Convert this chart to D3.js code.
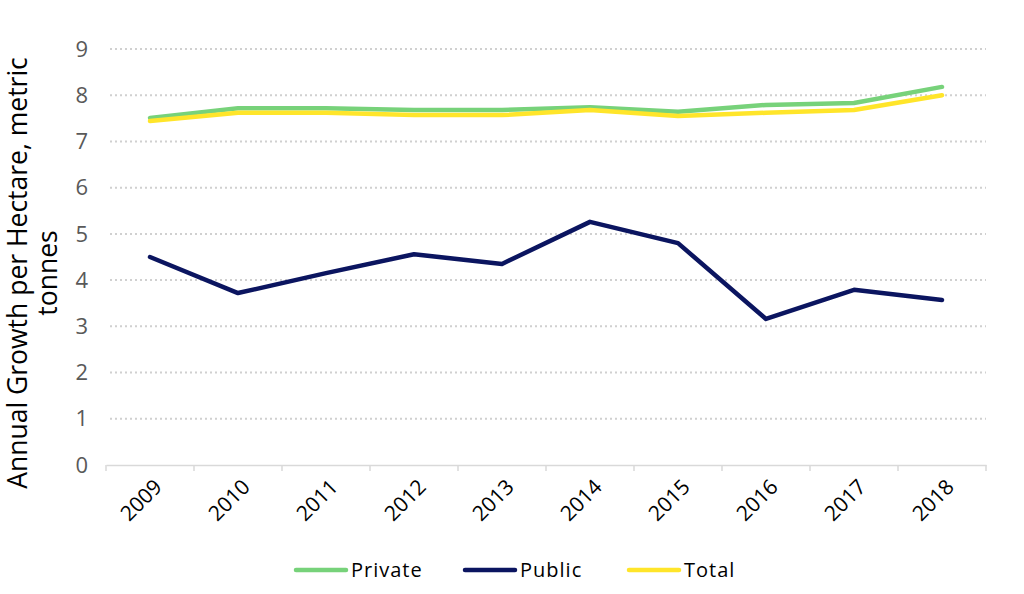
<!DOCTYPE html>
<html>
<head>
<meta charset="utf-8">
<script src="https://cdn.jsdelivr.net/npm/d3@7"></script>
<style>
  body { margin: 0; background: #fff; }
  svg { font-family: "Open Sans", "DejaVu Sans", sans-serif; }
</style>
</head>
<body>
<div id="chart"></div>
<script>
const years = ['2009', '2010', '2011', '2012', '2013', '2014', '2015', '2016', '2017', '2018'];
const privateVals = [7.51, 7.72, 7.72, 7.68, 7.68, 7.74, 7.64, 7.79, 7.83, 8.18];
const publicVals = [4.5, 3.72, 4.15, 4.56, 4.35, 5.26, 4.8, 3.16, 3.79, 3.57];
const totalVals = [7.44, 7.62, 7.62, 7.57, 7.57, 7.68, 7.55, 7.62, 7.68, 8.0];
const yTicks = [0, 1, 2, 3, 4, 5, 6, 7, 8, 9];

const series = [
    { name: 'Private', values: privateVals, color: '#77d27a' },
    { name: 'Public', values: publicVals, color: '#0b1560' },
    { name: 'Total', values: totalVals, color: '#ffe52a' },
];

const W = 1024, H = 594;
const m = { left: 106, right: 38, top: 49, bottom: 129 };

const svg = d3.select('#chart').append('svg')
    .attr('width', W)
    .attr('height', H);

const x = d3.scaleBand()
    .domain(years)
    .range([m.left, W - m.right]);

const y = d3.scaleLinear()
    .domain([0, 9])
    .range([H - m.bottom, m.top]);

// gridlines
svg.append('g')
    .selectAll('line')
    .data(yTicks.filter(d => d > 0))
    .join('line')
    .attr('x1', m.left + 4)
    .attr('x2', W - m.right)
    .attr('y1', d => y(d))
    .attr('y2', d => y(d))
    .attr('stroke', '#d0d0d0')
    .attr('stroke-width', 2)
    .attr('stroke-dasharray', '2,3');

// y axis labels
svg.append('g')
    .selectAll('text')
    .data(yTicks)
    .join('text')
    .attr('x', 88)
    .attr('y', d => y(d))
    .attr('dy', '0.35em')
    .attr('text-anchor', 'end')
    .attr('fill', '#595959')
    .attr('font-size', 22)
    .text(d => d);

// x axis
const xAxis = svg.append('g')
    .attr('transform', `translate(0,${H - m.bottom})`)
    .call(d3.axisBottom(x).tickSizeOuter(0).tickFormat(''));
xAxis.select('.domain').attr('stroke', '#d9d9d9').attr('stroke-width', 1.5);
xAxis.selectAll('.tick').remove();
// ticks on band boundaries
svg.append('g')
    .selectAll('line')
    .data(years.concat(['end']))
    .join('line')
    .attr('x1', (d, i) => m.left + i * x.step())
    .attr('x2', (d, i) => m.left + i * x.step())
    .attr('y1', H - m.bottom)
    .attr('y2', H - m.bottom + 6)
    .attr('stroke', '#d9d9d9')
    .attr('stroke-width', 1.5);

svg.append('g')
    .selectAll('text')
    .data(years)
    .join('text')
    .attr('transform', d => `translate(${x(d) + x.bandwidth() / 2 + 8},${H - m.bottom + 18}) rotate(-45)`)
    .attr('text-anchor', 'end')
    .attr('dy', '0.35em')
    .attr('fill', '#000')
    .attr('font-size', 21)
    .text(d => d);

// y axis title
const title = svg.append('text')
    .attr('transform', `translate(27,273) rotate(-90)`)
    .attr('text-anchor', 'middle')
    .attr('font-size', 26.5)
    .attr('fill', '#000');
title.append('tspan').attr('x', 0).attr('dy', 0).text('Annual Growth per Hectare, metric');
title.append('tspan').attr('x', 0).attr('dy', 30).text('tonnes');

// lines
const line = d3.line()
    .x((d, i) => x(years[i]) + x.bandwidth() / 2)
    .y(d => y(d));

const drawOrder = [series[1], series[0], series[2]];
svg.append('g')
    .selectAll('path')
    .data(drawOrder)
    .join('path')
    .attr('d', d => line(d.values))
    .attr('fill', 'none')
    .attr('stroke', d => d.color)
    .attr('stroke-width', 4.5)
    .attr('stroke-linecap', 'round')
    .attr('stroke-linejoin', 'round');

// legend
const legendX = [294, 463, 627];
const legend = svg.append('g')
    .selectAll('g')
    .data(series)
    .join('g')
    .attr('transform', (d, i) => `translate(${legendX[i]},570)`);
legend.append('line')
    .attr('x1', 2).attr('x2', 52)
    .attr('stroke', d => d.color)
    .attr('stroke-width', 4.5)
    .attr('stroke-linecap', 'round');
legend.append('text')
    .attr('x', 57)
    .attr('dy', '0.35em')
    .attr('font-size', 20)
    .attr('letter-spacing', 1)
    .attr('fill', '#000')
    .text(d => d.name);
</script>
</body>
</html>
